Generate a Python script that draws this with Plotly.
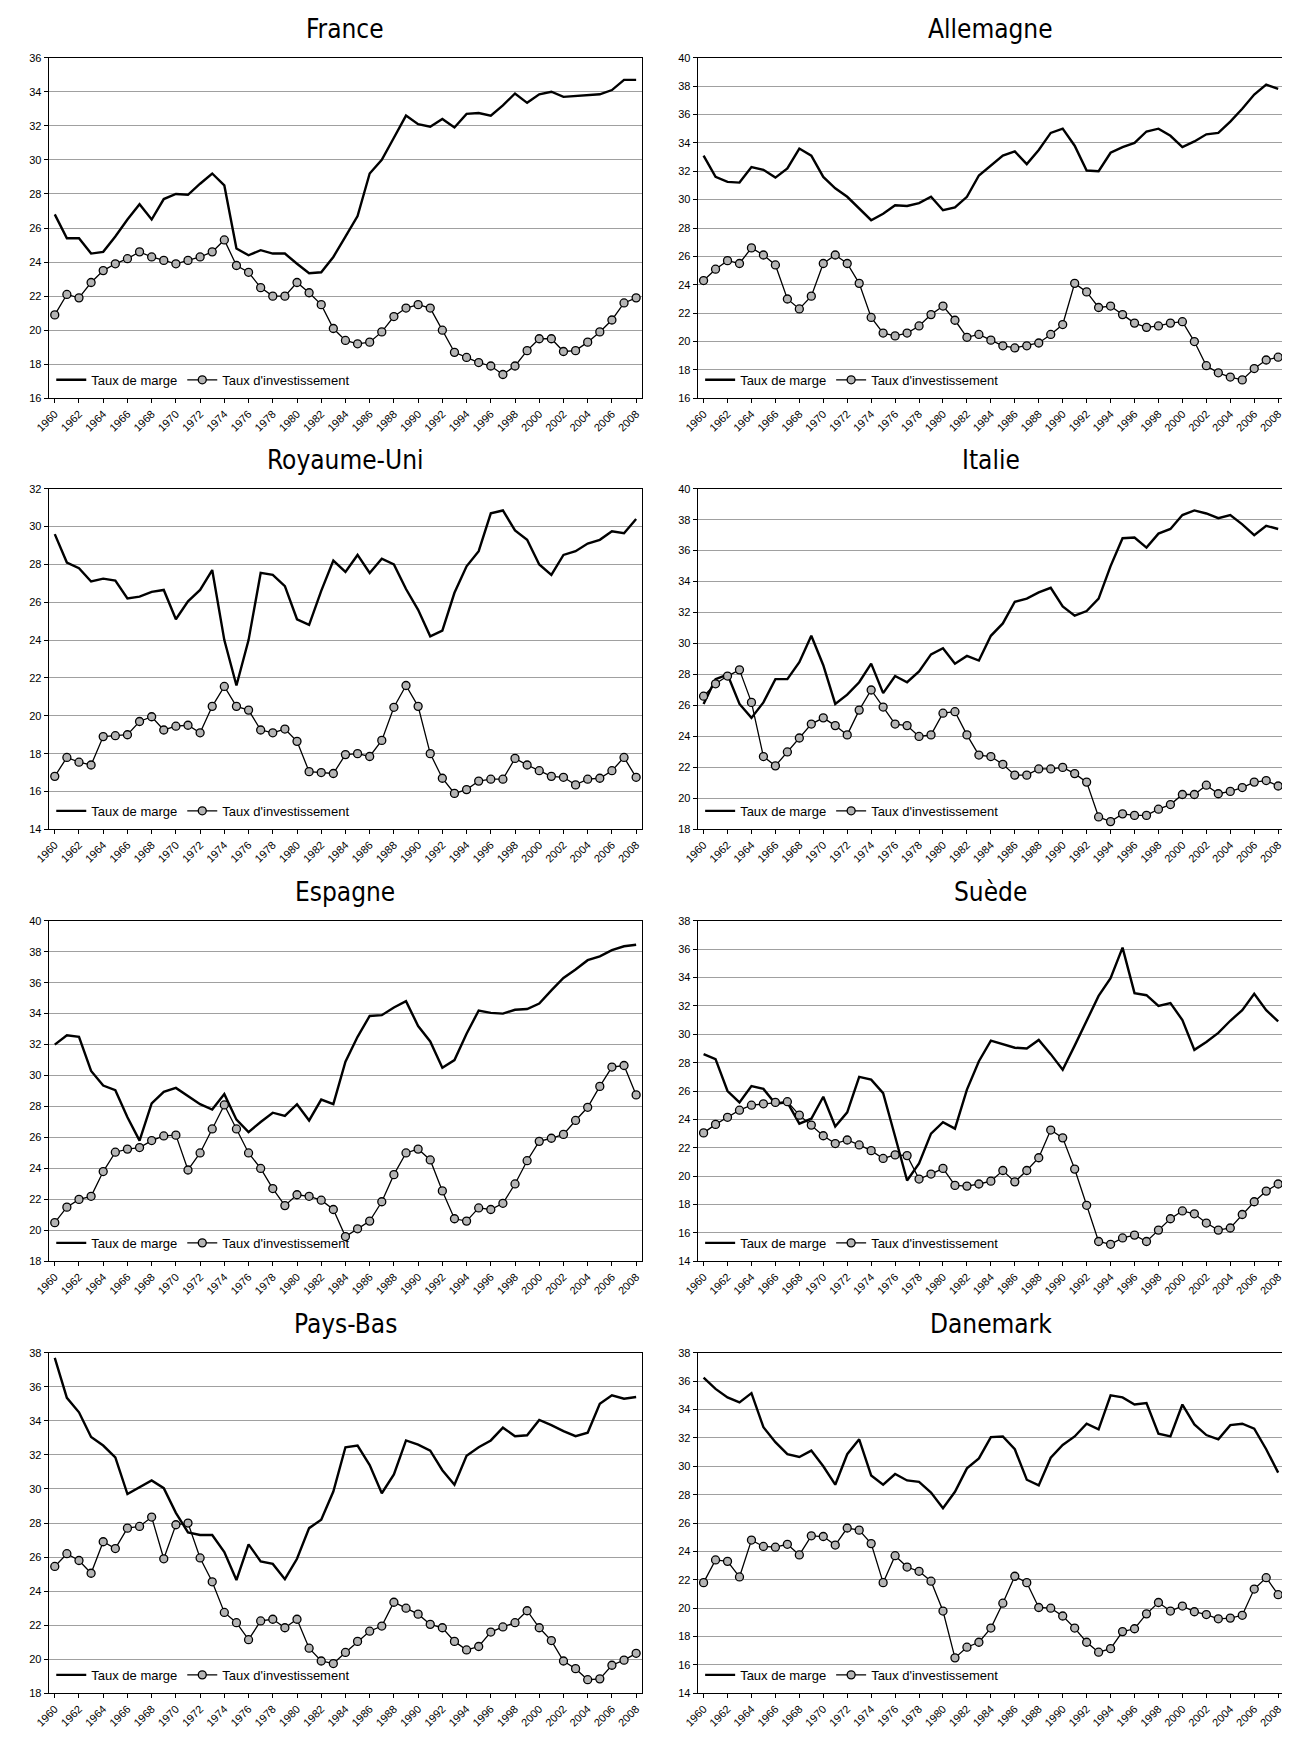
import plotly.graph_objects as go

years = [str(y) for y in range(1960, 2009)]
tick_years = [str(y) for y in range(1960, 2009, 2)]

countries = ['France', 'Allemagne', 'Royaume-Uni', 'Italie', 'Espagne', 'Suède', 'Pays-Bas', 'Danemark']

france_marge = [26.8, 25.4, 25.4, 24.5, 24.6, 25.5, 26.5, 27.4, 26.5, 27.7,
                28.0, 27.95, 28.6, 29.2, 28.5, 24.8, 24.4, 24.7, 24.5, 24.5,
                23.9, 23.35, 23.4, 24.3, 25.5, 26.7, 29.2, 30.0, 31.3, 32.6,
                32.1, 31.95, 32.4, 31.9, 32.7, 32.75, 32.6, 33.2, 33.9, 33.35,
                33.85, 34.0, 33.7, 33.75, 33.8, 33.85, 34.1, 34.7, 34.7]
france_invest = [20.9, 22.1, 21.9, 22.8, 23.5, 23.9, 24.2, 24.6, 24.3, 24.1,
                 23.9, 24.1, 24.3, 24.6, 25.3, 23.8, 23.4, 22.5, 22.0, 22.0,
                 22.8, 22.2, 21.5, 20.1, 19.4, 19.2, 19.3, 19.9, 20.8, 21.3,
                 21.5, 21.3, 20.0, 18.7, 18.4, 18.1, 17.9, 17.4, 17.9, 18.8,
                 19.5, 19.5, 18.75, 18.8, 19.3, 19.9, 20.6, 21.6, 21.9]

allemagne_marge = [33.1, 31.6, 31.25, 31.2, 32.3, 32.1, 31.55, 32.2, 33.6, 33.1,
                   31.6, 30.8, 30.2, 29.4, 28.55, 29.0, 29.6, 29.55, 29.75, 30.2,
                   29.25, 29.45, 30.2, 31.7, 32.4, 33.1, 33.4, 32.5, 33.5, 34.7,
                   35.0, 33.8, 32.05, 32.0, 33.3, 33.7, 34.0, 34.8, 35.0, 34.5,
                   33.7, 34.1, 34.6, 34.7, 35.5, 36.4, 37.4, 38.1, 37.8]
allemagne_invest = [24.3, 25.1, 25.7, 25.5, 26.6, 26.1, 25.4, 23.0, 22.3, 23.2,
                    25.5, 26.1, 25.5, 24.1, 21.7, 20.6, 20.4, 20.6, 21.1, 21.9,
                    22.5, 21.5, 20.3, 20.5, 20.1, 19.7, 19.55, 19.7, 19.9, 20.5,
                    21.2, 24.1, 23.5, 22.4, 22.5, 21.9, 21.3, 21.0, 21.1, 21.3,
                    21.4, 20.0, 18.3, 17.8, 17.5, 17.3, 18.1, 18.7, 18.9]

ru_marge = [29.6, 28.1, 27.8, 27.1, 27.25, 27.15, 26.2, 26.3, 26.55, 26.65,
            25.1, 26.05, 26.65, 27.7, 24.0, 21.6, 24.0, 27.55, 27.45, 26.85,
            25.1, 24.8, 26.6, 28.2, 27.6, 28.5, 27.55, 28.3, 28.0, 26.7,
            25.6, 24.2, 24.5, 26.5, 27.9, 28.7, 30.7, 30.85, 29.8, 29.3,
            28.0, 27.45, 28.5, 28.7, 29.1, 29.3, 29.75, 29.65, 30.4]
ru_invest = [16.8, 17.8, 17.55, 17.4, 18.9, 18.95, 19.0, 19.7, 19.95, 19.25,
             19.45, 19.5, 19.1, 20.5, 21.55, 20.5, 20.3, 19.25, 19.1, 19.3,
             18.65, 17.05, 17.0, 16.95, 17.95, 18.0, 17.85, 18.7, 20.45, 21.6,
             20.5, 18.0, 16.7, 15.9, 16.1, 16.55, 16.65, 16.65, 17.75, 17.4,
             17.1, 16.8, 16.75, 16.35, 16.65, 16.7, 17.1, 17.8, 16.75]

italie_marge = [26.1, 27.7, 28.0, 26.1, 25.2, 26.2, 27.7, 27.7, 28.8, 30.5,
                28.6, 26.1, 26.7, 27.5, 28.7, 26.8, 27.9, 27.5, 28.2, 29.3,
                29.7, 28.7, 29.2, 28.9, 30.5, 31.3, 32.7, 32.9, 33.3, 33.6,
                32.4, 31.8, 32.1, 32.9, 35.0, 36.8, 36.85, 36.2, 37.1, 37.4,
                38.3, 38.6, 38.4, 38.1, 38.3, 37.7, 37.0, 37.6, 37.4]
italie_invest = [26.6, 27.4, 27.9, 28.3, 26.2, 22.7, 22.1, 23.0, 23.9, 24.8,
                 25.2, 24.7, 24.1, 25.7, 27.0, 25.9, 24.8, 24.7, 24.0, 24.1,
                 25.5, 25.6, 24.1, 22.8, 22.7, 22.2, 21.5, 21.5, 21.9, 21.9,
                 22.0, 21.6, 21.05, 18.8, 18.5, 19.0, 18.9, 18.9, 19.3, 19.6,
                 20.25, 20.25, 20.85, 20.3, 20.45, 20.7, 21.05, 21.15, 20.8]

espagne_marge = [32.0, 32.6, 32.5, 30.3, 29.35, 29.05, 27.3, 25.8, 28.2, 28.95,
                 29.2, 28.7, 28.15, 27.8, 28.8, 27.15, 26.35, 27.0, 27.6, 27.4,
                 28.15, 27.1, 28.45, 28.15, 30.9, 32.5, 33.85, 33.9, 34.4, 34.8,
                 33.2, 32.2, 30.5, 31.0, 32.7, 34.2, 34.05, 34.0, 34.25, 34.3,
                 34.65, 35.5, 36.3, 36.85, 37.45, 37.7, 38.1, 38.35, 38.45]
espagne_invest = [20.5, 21.5, 22.0, 22.2, 23.8, 25.05, 25.25, 25.35, 25.8, 26.1,
                  26.15, 23.9, 25.0, 26.55, 28.1, 26.55, 25.0, 24.0, 22.7, 21.6,
                  22.3, 22.2, 21.95, 21.35, 19.6, 20.1, 20.6, 21.85, 23.6, 25.0,
                  25.25, 24.55, 22.55, 20.75, 20.6, 21.45, 21.35, 21.75, 23.0, 24.5,
                  25.75, 25.95, 26.2, 27.1, 27.95, 29.3, 30.55, 30.65, 28.75]

suede_marge = [28.6, 28.25, 26.0, 25.2, 26.35, 26.15, 25.1, 25.2, 23.7, 24.05,
               25.6, 23.5, 24.5, 27.0, 26.8, 25.85, 22.8, 19.7, 20.9, 23.0,
               23.8, 23.35, 26.1, 28.1, 29.55, 29.3, 29.05, 29.0, 29.6, 28.6,
               27.5, 29.2, 30.9, 32.7, 33.95, 36.1, 32.9, 32.75, 32.0, 32.2,
               31.0, 28.9, 29.45, 30.1, 30.95, 31.7, 32.85, 31.7, 30.9]
suede_invest = [23.05, 23.65, 24.15, 24.65, 25.0, 25.1, 25.2, 25.25, 24.3, 23.6,
                22.85, 22.3, 22.55, 22.2, 21.8, 21.25, 21.5, 21.45, 19.8, 20.15,
                20.55, 19.35, 19.3, 19.45, 19.65, 20.4, 19.6, 20.4, 21.3, 23.25,
                22.7, 20.5, 17.95, 15.4, 15.2, 15.65, 15.85, 15.4, 16.2, 17.0,
                17.55, 17.35, 16.7, 16.2, 16.35, 17.3, 18.2, 18.95, 19.45]

pb_marge = [37.7, 35.35, 34.5, 33.05, 32.55, 31.85, 29.7, 30.1, 30.5, 30.05,
            28.6, 27.45, 27.3, 27.3, 26.3, 24.65, 26.75, 25.75, 25.6, 24.7,
            25.9, 27.7, 28.2, 29.85, 32.45, 32.55, 31.4, 29.75, 30.85, 32.85,
            32.6, 32.25, 31.1, 30.25, 31.95, 32.45, 32.85, 33.6, 33.1, 33.15,
            34.05, 33.75, 33.4, 33.1, 33.3, 35.0, 35.5, 35.3, 35.4]
pb_invest = [25.45, 26.2, 25.8, 25.05, 26.9, 26.5, 27.7, 27.8, 28.35, 25.9,
             27.9, 28.0, 25.95, 24.55, 22.75, 22.15, 21.15, 22.25, 22.35, 21.85,
             22.35, 20.65, 19.9, 19.75, 20.4, 21.05, 21.65, 21.95, 23.35, 23.0,
             22.65, 22.05, 21.85, 21.05, 20.55, 20.75, 21.6, 21.9, 22.15, 22.85,
             21.85, 21.1, 19.9, 19.45, 18.8, 18.85, 19.65, 19.95, 20.35]

danemark_marge = [36.25, 35.45, 34.85, 34.5, 35.15, 32.75, 31.7, 30.85, 30.65, 31.1,
                  30.0, 28.7, 30.85, 31.9, 29.35, 28.7, 29.45, 29.0, 28.9, 28.15,
                  27.05, 28.2, 29.85, 30.55, 32.05, 32.1, 31.2, 29.05, 28.65, 30.6,
                  31.5, 32.1, 33.0, 32.6, 35.0, 34.85, 34.35, 34.45, 32.3, 32.1,
                  34.35, 32.95, 32.2, 31.9, 32.9, 33.0, 32.65, 31.2, 29.55]
danemark_invest = [21.8, 23.4, 23.3, 22.2, 24.8, 24.35, 24.3, 24.5, 23.75, 25.1,
                   25.05, 24.45, 25.65, 25.5, 24.55, 21.8, 23.7, 22.9, 22.6, 21.9,
                   19.8, 16.5, 17.25, 17.6, 18.6, 20.35, 22.25, 21.8, 20.05, 20.0,
                   19.45, 18.6, 17.6, 16.9, 17.15, 18.35, 18.55, 19.6, 20.4, 19.8,
                   20.15, 19.75, 19.55, 19.25, 19.3, 19.5, 21.35, 22.15, 20.95]

marge_series = [france_marge, allemagne_marge, ru_marge, italie_marge,
                espagne_marge, suede_marge, pb_marge, danemark_marge]
invest_series = [france_invest, allemagne_invest, ru_invest, italie_invest,
                 espagne_invest, suede_invest, pb_invest, danemark_invest]
y_ranges = [(16, 36), (16, 40), (14, 32), (18, 40), (18, 40), (14, 38), (18, 38), (14, 38)]

W, H = 1290, 1742
col_px = [(27, 627), (683, 1276)]
row_px = [(44, 387), (478, 821), (913, 1256), (1348, 1691)]
font = 'Liberation Sans, Arial, sans-serif'
title_font = 'Liberation Sans Narrow, DejaVu Sans Condensed, Liberation Sans, sans-serif'

fig = go.Figure()
layout = dict(width=W, height=H, margin=dict(l=0, r=0, t=0, b=0),
              paper_bgcolor='white', plot_bgcolor='white', annotations=[])

for i, name in enumerate(countries):
    r, c = divmod(i, 2)
    x0, x1 = col_px[c][0] / W, col_px[c][1] / W
    y0, y1 = 1 - row_px[r][1] / H, 1 - row_px[r][0] / H
    n = i + 1
    xa = 'x' if n == 1 else f'x{n}'
    ya = 'y' if n == 1 else f'y{n}'
    lg = 'legend' if n == 1 else f'legend{n}'

    fig.add_trace(go.Scatter(x=years, y=marge_series[i], mode='lines', name='Taux de marge',
                             line=dict(color='black', width=2.4), xaxis=xa, yaxis=ya, legend=lg))
    fig.add_trace(go.Scatter(x=years, y=invest_series[i], mode='lines+markers',
                             name="Taux d'investissement",
                             line=dict(color='black', width=1.3),
                             marker=dict(symbol='circle', size=8, color='#b4b4b4',
                                         line=dict(color='black', width=1.3)),
                             xaxis=xa, yaxis=ya, legend=lg))

    layout['xaxis' if n == 1 else f'xaxis{n}'] = dict(
        domain=[x0, x1], anchor=ya, type='category', categoryorder='array', categoryarray=years,
        tickmode='array', tickvals=tick_years, ticktext=tick_years, tickangle=-45,
        tickfont=dict(family=font, size=11, color='black'),
        showline=True, linecolor='black', linewidth=1, mirror=True,
        ticks='outside', ticklen=4, tickcolor='black', showgrid=False,
        range=[-0.5, len(years) - 0.5])
    layout['yaxis' if n == 1 else f'yaxis{n}'] = dict(
        domain=[y0, y1], anchor=xa, range=list(y_ranges[i]), dtick=2,
        tickfont=dict(family=font, size=11, color='black'),
        showline=True, linecolor='black', linewidth=1, mirror=True,
        ticks='outside', ticklen=4, tickcolor='black',
        showgrid=True, gridcolor='#a0a0a0', gridwidth=1, zeroline=False)
    layout[lg] = dict(x=x0 + 0.002, y=y0 + 0.002, xanchor='left', yanchor='bottom',
                      orientation='h', bgcolor='rgba(255,255,255,0)',
                      font=dict(family=font, size=13, color='black'),
                      itemwidth=30, tracegroupgap=0)
    layout['annotations'].append(dict(
        text=name, x=(x0 + x1) / 2, y=y1 + 12 / H, xref='paper', yref='paper',
        xanchor='center', yanchor='bottom', showarrow=False,
        font=dict(family=title_font, size=26, color='black')))

fig.update_layout(**layout)
fig.write_html("out.html")
